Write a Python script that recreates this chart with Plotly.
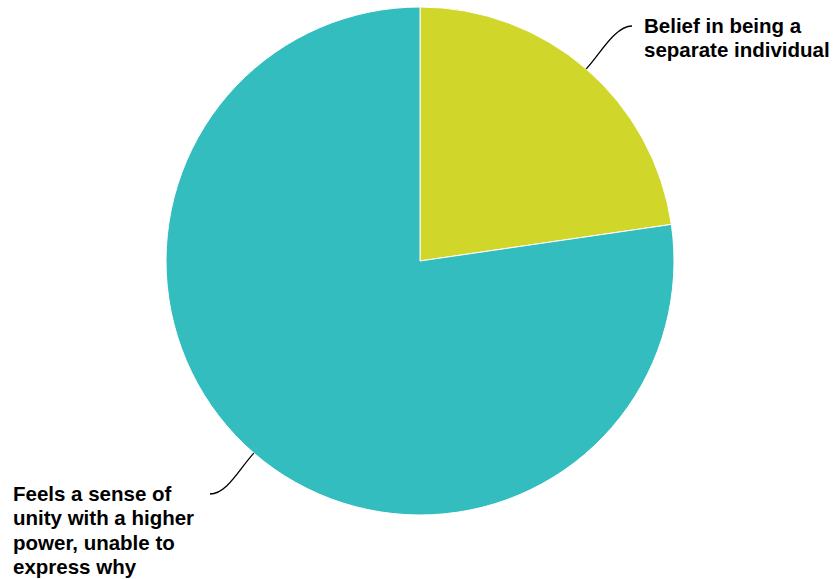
import math
import plotly.graph_objects as go

# ---- data ----
labels = ["Belief in being a separate individual",
          "Feels a sense of unity with a higher power, unable to express why"]
label_lines = [["Belief in being a", "separate individual"],
               ["Feels a sense of", "unity with a higher", "power, unable to", "express why"]]
values = [22.7, 77.3]
colors = ["#D0D62A", "#33BDBF"]

W, H = 837, 579
cx, cy, r = 420, 261, 254

fig = go.Figure()
fig.add_trace(go.Pie(
    labels=labels, values=values, sort=False, direction="clockwise", rotation=0,
    marker=dict(colors=colors, line=dict(color="white", width=1)),
    textinfo="none", hoverinfo="skip", showlegend=False,
    domain=dict(x=[(cx - r) / W, (cx + r) / W], y=[(H - cy - r) / H, (H - cy + r) / H]),
))

# label placement (pixel space)
label_pos = [dict(x=642, y=25, side="right", end=632), dict(x=11, y=493, side="left", end=210)]
line_h = 24.5
font = dict(family="Liberation Sans, Arial, sans-serif", size=20.5, color="#000000")

annotations = []
shapes = []
total = sum(values)
cum = 0
for i, v in enumerate(values):
    mid = (cum + v / 2) / total * 2 * math.pi
    cum += v
    sx = cx + r * math.sin(mid)
    sy = cy - r * math.cos(mid)
    lp = label_pos[i]
    ex, ey = lp["end"], lp["y"] + 1
    if lp["side"] == "right":
        path = f"M {sx},{sy} C {sx+14},{sy-15} {ex-17},{ey} {ex},{ey}"
    else:
        path = f"M {sx},{sy} C {sx-14},{sy+15} {ex+17},{ey} {ex},{ey}"
    shapes.append(dict(type="path", path=path, xref="x", yref="y",
                       line=dict(color="black", width=1.3)))
    for j, t in enumerate(label_lines[i]):
        annotations.append(dict(text=f"<b>{t}</b>", x=lp["x"], y=lp["y"] + j * line_h,
                                xref="x", yref="y", xanchor="left", yanchor="middle",
                                showarrow=False, font=font))

fig.update_layout(
    width=W, height=H, margin=dict(l=0, r=0, t=0, b=0),
    paper_bgcolor="white", plot_bgcolor="rgba(0,0,0,0)",
    xaxis=dict(range=[0, W], visible=False, fixedrange=True),
    yaxis=dict(range=[H, 0], visible=False, fixedrange=True),
    shapes=shapes, annotations=annotations,
)
fig.write_html("out.html", config={"displayModeBar": False},
               post_script="document.body.style.margin='0';document.body.style.overflow='hidden';")
